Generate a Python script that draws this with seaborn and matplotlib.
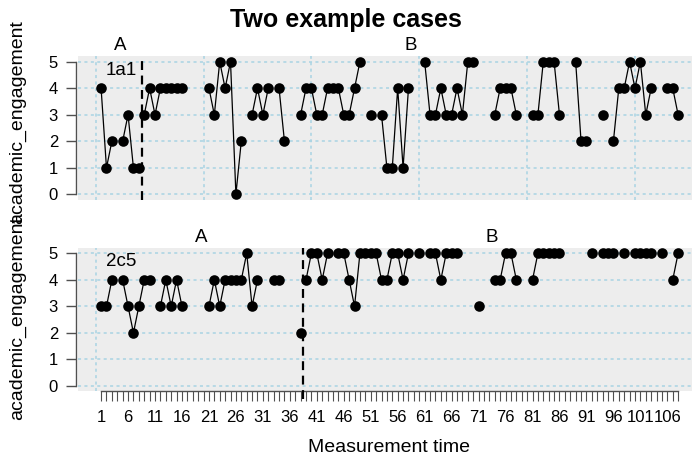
import numpy as np
import pandas as pd
import matplotlib
matplotlib.use("Agg")
import matplotlib.pyplot as plt
import matplotlib.transforms as mtransforms
import seaborn as sns

nan = np.nan

# ---------------- data ----------------
time = list(range(1, 109))
case_names = ["1a1", "2c5"]

engagement_1a1 = [
    4, 1, 2, nan, 2, 3, 1, 1, 3, 4,
    3, 4, 4, 4, 4, 4, nan, nan, nan, nan,
    4, 3, 5, 4, 5, 0, 2, nan, 3, 4,
    3, 4, nan, 4, 2, nan, nan, 3, 4, 4,
    3, 3, 4, 4, 4, 3, 3, 4, 5, nan,
    3, nan, 3, 1, 1, 4, 1, 4, nan, nan,
    5, 3, 3, 4, 3, 3, 4, 3, 5, 5,
    nan, nan, nan, 3, 4, 4, 4, 3, nan, nan,
    3, 3, 5, 5, 5, 3, nan, nan, 5, 2,
    2, nan, nan, 3, nan, 2, 4, 4, 5, 4,
    5, 3, 4, nan, nan, 4, 4, 3,
]
engagement_2c5 = [
    3, 3, 4, nan, 4, 3, 2, 3, 4, 4,
    nan, 3, 4, 3, 4, 3, nan, nan, nan, nan,
    3, 4, 3, 4, 4, 4, 4, 5, 3, 4,
    nan, nan, 4, 4, nan, nan, nan, 2, 4, 5,
    5, 4, 5, nan, 5, 5, 4, 3, 5, 5,
    5, 5, 4, 4, 5, 5, 4, 5, nan, 5,
    nan, 5, 5, 4, 5, 5, 5, nan, nan, nan,
    3, nan, nan, 4, 4, 5, 5, 4, nan, nan,
    4, 5, 5, 5, 5, 5, nan, nan, nan, nan,
    nan, 5, nan, 5, 5, 5, nan, 5, nan, 5,
    5, 5, 5, nan, 5, nan, 4, 5,
]
phase_A_length = [8, 38]          # last measurement of phase A per case
phase_names = ["A", "B"]
y_ticks = [0, 1, 2, 3, 4, 5]
grid_x = [0, 20, 40, 60, 80, 100]
x_tick_labels = list(range(1, 108, 5))

# ---------------- style ----------------
sns.set_style("white")
plt.rcParams["font.family"] = ["Liberation Sans", "DejaVu Sans"]
plt.rcParams["text.color"] = "black"
plt.rcParams["xtick.color"] = "black"
plt.rcParams["ytick.color"] = "black"
plt.rcParams["axes.labelcolor"] = "black"

W, H = 692, 462
fig = plt.figure(figsize=(W / 100, H / 100), dpi=100)


def pos(l, t, r, b):
    return [l / W, 1 - b / H, (r - l) / W, (b - t) / H]


axes = [fig.add_axes(pos(78, 56.4, 701.2, 199.6)),
        fig.add_axes(pos(78, 248.0, 701.2, 391.2))]

series = [engagement_1a1, engagement_2c5]
axis_grey = "#505050"

for k, ax in enumerate(axes):
    vals = series[k]
    a_end = phase_A_length[k]
    phase = ["A" if t <= a_end else "B" for t in time]
    seg = []
    sid = 0
    prev_ok = False
    prev_phase = None
    for t, v, p in zip(time, vals, phase):
        ok = not np.isnan(v)
        if ok and (not prev_ok or p != prev_phase):
            sid += 1
        seg.append(sid if ok else -1)
        prev_ok, prev_phase = ok, p
    df = pd.DataFrame({"time": time, "value": vals, "phase": phase, "seg": seg})
    dfv = df[df["seg"] >= 0]

    ax.set_facecolor("#EDEDED")
    ax.set_axisbelow(True)
    sns.lineplot(data=dfv, x="time", y="value", units="seg", estimator=None,
                 sort=False, color="black", lw=0.9, ax=ax, legend=False)
    sns.scatterplot(data=dfv, x="time", y="value", color="black", s=58,
                    linewidth=0, ax=ax, legend=False, zorder=4)

    ax.set_xlim(-3.28, 112.28)
    ax.set_ylim(-0.2, 5.2)

    # phase change line
    xb = a_end + 0.5
    ylow = -0.2 if k == 0 else -0.5
    ax.plot([xb, xb], [ylow, 5.2], color="black", lw=1.6,
            linestyle=(0, (4, 2.5)), clip_on=False, zorder=5)

    # phase labels above panel
    trans = mtransforms.blended_transform_factory(ax.transData, ax.transAxes)
    centers = [(1 + a_end) / 2, (a_end + 1 + time[-1]) / 2]
    for name, c in zip(phase_names, centers):
        ax.text(c, 1.075, name, transform=trans, ha="center", va="center",
                fontsize=13.5)

    # case label
    ax.text(4.7, 4.68, case_names[k], ha="center", va="center", fontsize=13.5)

    # grid
    ax.set_yticks(y_ticks)
    ax.set_xticks(grid_x, minor=True)
    ax.grid(which="minor", axis="x", color="#A9D3E3", lw=1.1,
            linestyle=(0, (2, 2.2)))
    ax.grid(which="major", axis="y", color="#A9D3E3", lw=1.1,
            linestyle=(0, (2, 2.2)))
    ax.grid(which="major", axis="x", visible=False)

    for s in ["top", "right", "bottom"]:
        ax.spines[s].set_visible(False)
    ax.spines["left"].set_bounds(0, 5)
    ax.spines["left"].set_color(axis_grey)
    ax.spines["left"].set_linewidth(1.0)
    ax.spines["left"].set_position(("outward", 1.2))
    ax.tick_params(axis="y", which="major", left=True, length=7.2, width=1.0,
                   color=axis_grey, pad=6, labelsize=12, labelcolor="black")
    ax.set_xlabel("")
    ax.set_ylabel("")

    if k == 0:
        ax.set_xticks([])
        ax.set_xticks(grid_x, minor=True)
        ax.tick_params(axis="x", which="both", bottom=False, labelbottom=False)
    else:
        ax.set_xticks(time)
        ax.set_xticklabels([str(t) if t in x_tick_labels else "" for t in time])
        ax.spines["bottom"].set_visible(True)
        ax.spines["bottom"].set_bounds(1, time[-1])
        ax.spines["bottom"].set_color(axis_grey)
        ax.spines["bottom"].set_linewidth(1.0)
        ax.tick_params(axis="x", which="major", bottom=True, length=7.2,
                       width=0.8, color=axis_grey, pad=6.5, labelsize=12,
                       labelcolor="black")
    ax.tick_params(which="minor", length=0, bottom=False, left=False)

# axis labels and title
fig.text(18 / W, 1 - 122 / H, "academic_engagement", rotation=90,
         ha="center", va="center", fontsize=14)
fig.text(18 / W, 1 - 318 / H, "academic_engagement", rotation=90,
         ha="center", va="center", fontsize=14)
fig.text(389 / W, 1 - 447 / H, "Measurement time", ha="center", va="center",
         fontsize=14)
fig.text(346 / W, 1 - 20 / H, "Two example cases", ha="center", va="center",
         fontsize=18, fontweight="bold")

fig.savefig("out.png", dpi=100)
